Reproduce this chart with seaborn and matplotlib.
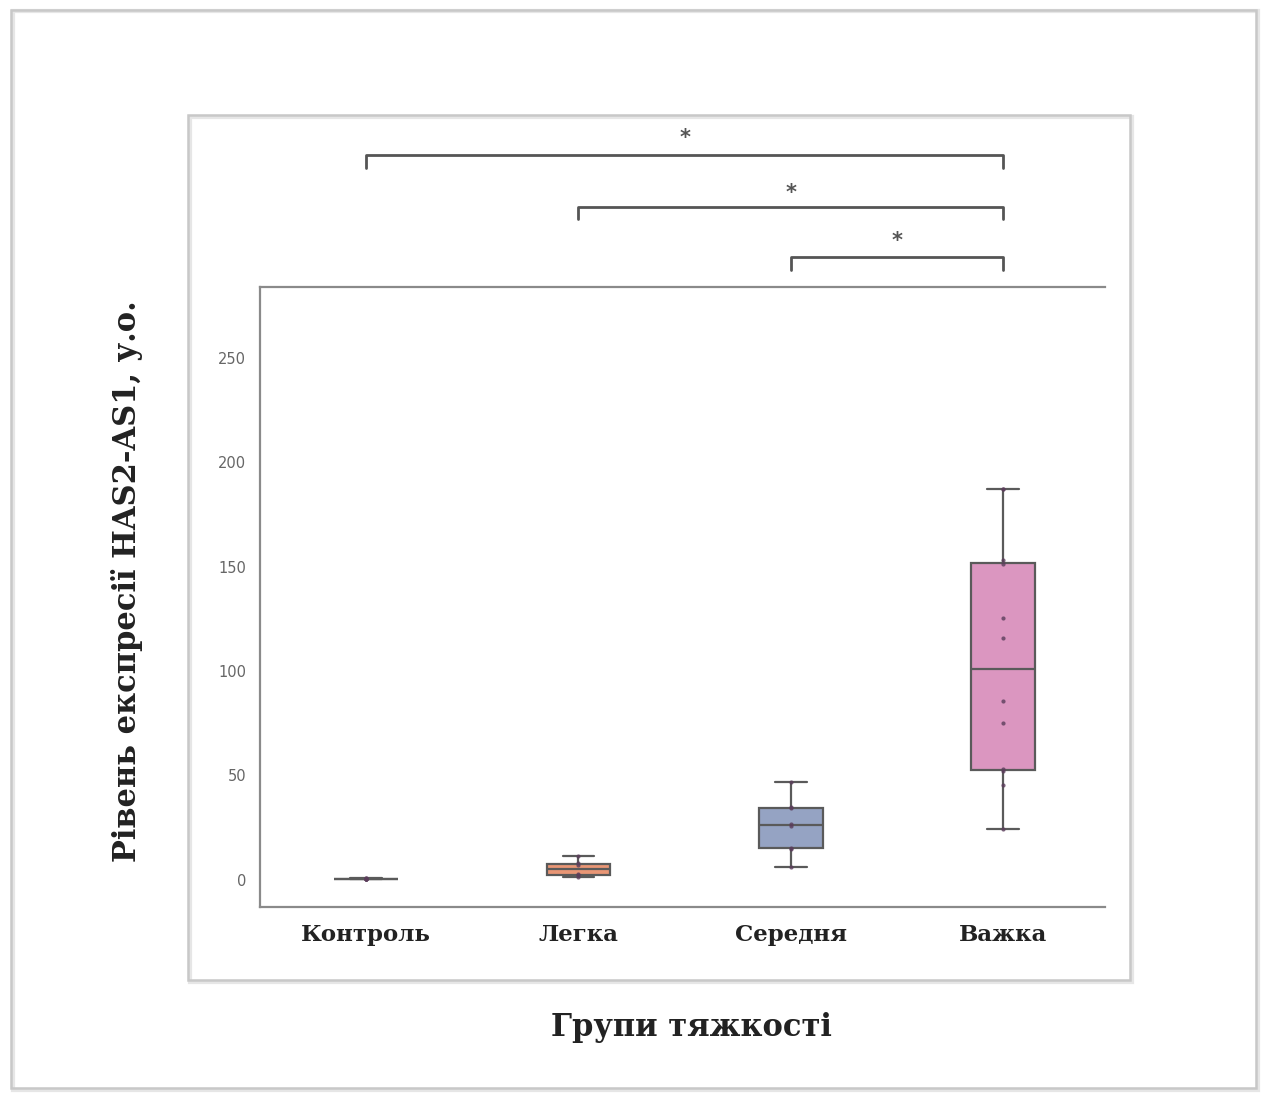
import numpy as np
import pandas as pd
import seaborn as sns
import matplotlib
matplotlib.use("Agg")
import matplotlib.pyplot as plt
from matplotlib.patches import Rectangle
import matplotlib.transforms as mtransforms

# ---- data ----
groups = ["Контроль", "Легка", "Середня", "Важка"]
control = [0.2, 0.3, 0.4, 0.5, 0.5, 0.6, 0.7, 0.8]
mild = [1.4, 2.2, 3.0, 7.0, 7.93, 11.5]
moderate = [6.2, 15.0, 15.4, 25.8, 26.8, 34.3, 35.1, 47.0]
severe = [24.4, 45.5, 52.0, 52.9, 75.2, 85.7, 116.0, 125.5, 151.5, 153.0, 187.0, 187.0]
yticks = [0, 50, 100, 150, 200, 250]
comparisons = [("Середня", "Важка", "*"), ("Легка", "Важка", "*"), ("Контроль", "Важка", "*")]

values = [control, mild, moderate, severe]
df = pd.DataFrame({
    "group": np.concatenate([[g] * len(v) for g, v in zip(groups, values)]),
    "value": np.concatenate(values),
})

sns.set_theme(style="white")
plt.rcParams["font.family"] = ["DejaVu Sans"]

fig = plt.figure(figsize=(12.64, 10.95), dpi=100)
fig.patch.set_facecolor("white")

# decorative frames (with a faint shadow)
for dx, col, lw in [(0.0015, "#e6e6e6", 3.0), (0.0, "#c8c8c8", 1.8)]:
    fig.patches.append(Rectangle((0.009 + dx, 0.006 - dx), 0.985, 0.985,
                                 transform=fig.transFigure, fill=False,
                                 edgecolor=col, linewidth=lw))
    fig.patches.append(Rectangle((0.1487 + dx, 0.105 - dx), 0.7453, 0.790,
                                 transform=fig.transFigure, fill=False,
                                 edgecolor=col, linewidth=lw))

ax = fig.add_axes([0.2057, 0.1717, 0.6685, 0.5662])

palette = ["#66c2a5", "#fc8d62", "#8da0cb", "#e78ac3"]
sns.boxplot(data=df, x="group", y="value", order=groups, hue="group",
            palette=palette, width=0.3, linewidth=1.6, linecolor="#5a5a5a",
            showfliers=False, saturation=0.75, legend=False, ax=ax)
sns.stripplot(data=df, x="group", y="value", order=groups, jitter=False,
              color="#5b3d5b", size=3.0, alpha=0.8, ax=ax)

ax.set_xlim(-0.5, 3.48)
ax.set_ylim(-13, 284)
ax.set_yticks(yticks)
ax.set_yticklabels([str(t) for t in yticks], fontsize=10.5, color="#666666")
ax.tick_params(axis="y", length=0, pad=10)
ax.tick_params(axis="x", length=0, pad=12)
ax.set_xticks(range(len(groups)))
ax.set_xticklabels(groups, fontsize=16.5, fontweight="bold", family="DejaVu Serif",
                   color="#222222")

for side in ["left", "top", "bottom"]:
    ax.spines[side].set_color("#8a8a8a")
    ax.spines[side].set_linewidth(1.6)
ax.spines["right"].set_visible(False)

ax.set_xlabel("Групи тяжкості", fontsize=22, fontweight="bold", family="DejaVu Serif",
              color="#222222")
ax.xaxis.set_label_coords(0.511, -0.17)
ax.set_ylabel("Рівень експресії HAS2-AS1, у.о.", fontsize=22, fontweight="bold",
              family="DejaVu Serif", color="#222222")
ax.yaxis.set_label_coords(-0.139, 0.526)

# significance brackets above the axes
trans = mtransforms.blended_transform_factory(ax.transData, ax.transAxes)
levels = [(1.048, 1.027, 1.074), (1.129, 1.110, 1.152), (1.213, 1.192, 1.240)]
for (g1, g2, label), (ytop, ybot, ytxt) in zip(comparisons, levels):
    x1, x2 = groups.index(g1), groups.index(g2)
    ax.plot([x1, x1, x2, x2], [ybot, ytop, ytop, ybot], transform=trans,
            color="#555555", linewidth=2.0, clip_on=False)
    ax.text((x1 + x2) / 2, ytxt, label, transform=trans, ha="center", va="center",
            fontsize=15, fontweight="bold", color="#555555")

fig.savefig("out.png", dpi=100)
